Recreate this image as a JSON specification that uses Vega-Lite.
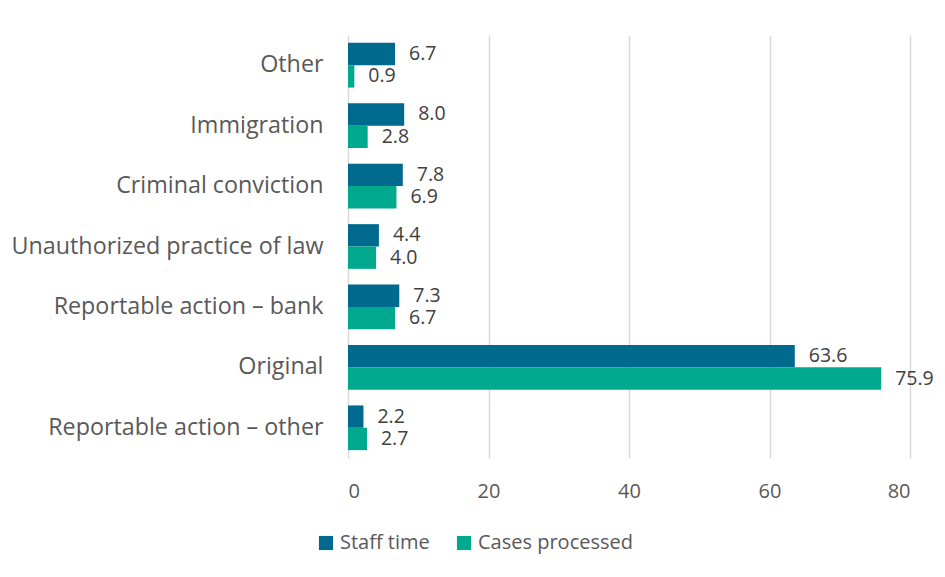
{
  "$schema": "https://vega.github.io/schema/vega-lite/v6.json",
  "width": 562,
  "height": 423,
  "autosize": {"type": "none"},
  "padding": {"left": 348, "top": 35, "right": 35, "bottom": 119},
  "background": "white",
  "config": {
    "view": {"stroke": null},
    "font": "Open Sans"
  },
  "data": {
    "values": [
      {"category": "Other", "series": "Staff time", "value": 6.7},
      {"category": "Other", "series": "Cases processed", "value": 0.9},
      {"category": "Immigration", "series": "Staff time", "value": 8.0},
      {"category": "Immigration", "series": "Cases processed", "value": 2.8},
      {"category": "Criminal conviction", "series": "Staff time", "value": 7.8},
      {"category": "Criminal conviction", "series": "Cases processed", "value": 6.9},
      {"category": "Unauthorized practice of law", "series": "Staff time", "value": 4.4},
      {"category": "Unauthorized practice of law", "series": "Cases processed", "value": 4.0},
      {"category": "Reportable action – bank", "series": "Staff time", "value": 7.3},
      {"category": "Reportable action – bank", "series": "Cases processed", "value": 6.7},
      {"category": "Original", "series": "Staff time", "value": 63.6},
      {"category": "Original", "series": "Cases processed", "value": 75.9},
      {"category": "Reportable action – other", "series": "Staff time", "value": 2.2},
      {"category": "Reportable action – other", "series": "Cases processed", "value": 2.7}
    ]
  },
  "encoding": {
    "y": {
      "field": "category",
      "type": "nominal",
      "sort": ["Other", "Immigration", "Criminal conviction", "Unauthorized practice of law", "Reportable action – bank", "Original", "Reportable action – other"],
      "scale": {"paddingInner": 0.26, "paddingOuter": 0.13},
      "axis": {
        "title": null,
        "domain": false,
        "ticks": false,
        "labelPadding": 25,
        "labelFontSize": 23.3,
        "labelColor": "#595959",
        "labelLimit": 400
      }
    },
    "yOffset": {
      "field": "series",
      "type": "nominal",
      "sort": ["Staff time", "Cases processed"]
    },
    "x": {
      "field": "value",
      "type": "quantitative",
      "scale": {"domain": [0, 80], "nice": false},
      "axis": {
        "title": null,
        "values": [0, 20, 40, 60, 80],
        "domain": false,
        "ticks": false,
        "grid": true,
        "gridColor": "#d9d9d9",
        "gridWidth": 1.5,
        "labelPadding": 23,
        "labelFontSize": 20,
        "labelColor": "#595959"
      }
    }
  },
  "layer": [
    {
      "mark": {"type": "bar"},
      "encoding": {
        "color": {
          "field": "series",
          "type": "nominal",
          "sort": ["Staff time", "Cases processed"],
          "scale": {"domain": ["Staff time", "Cases processed"], "range": ["#006A8E", "#00A88E"]},
          "legend": {
            "title": null,
            "orient": "none",
            "direction": "horizontal",
            "legendX": -32,
            "legendY": 498,
            "symbolType": "square",
            "symbolSize": 200,
            "symbolStrokeWidth": 0,
            "labelFontSize": 20,
            "labelColor": "#595959",
            "columnPadding": 24,
            "labelOffset": 4
          }
        }
      }
    },
    {
      "mark": {"type": "text", "align": "left", "baseline": "middle", "dx": 14, "fontSize": 19.5, "color": "#404040"},
      "encoding": {
        "text": {"field": "value", "type": "quantitative", "format": ".1f"}
      }
    }
  ]
}
